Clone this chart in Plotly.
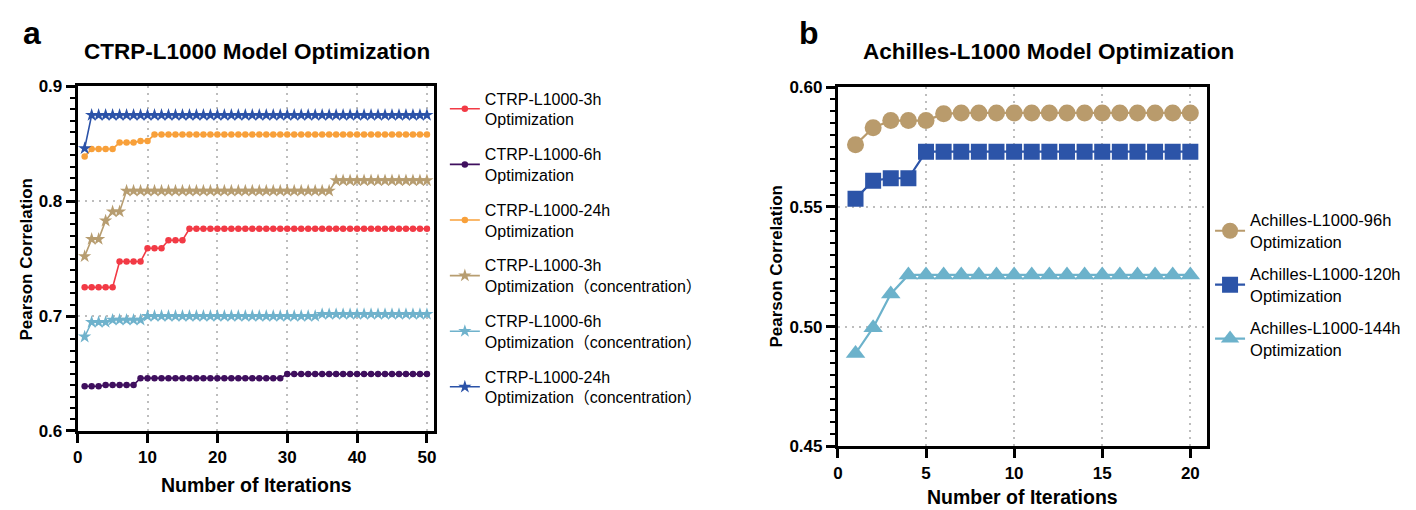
import plotly.graph_objects as go

W, H = 1416, 510

# ---------------- Panel a data ----------------
iters_a = list(range(1, 51))
ctrp_3h = [0.725, 0.725, 0.725, 0.725, 0.725, 0.7475, 0.7475, 0.7475, 0.7475, 0.759,
           0.759, 0.759, 0.766, 0.766, 0.766, 0.776, 0.776, 0.776, 0.776, 0.776,
           0.776, 0.776, 0.776, 0.776, 0.776, 0.776, 0.776, 0.776, 0.776, 0.776,
           0.776, 0.776, 0.776, 0.776, 0.776, 0.776, 0.776, 0.776, 0.776, 0.776,
           0.776, 0.776, 0.776, 0.776, 0.776, 0.776, 0.776, 0.776, 0.776, 0.776]
ctrp_6h = [0.639, 0.639, 0.639, 0.640, 0.640, 0.640, 0.640, 0.640, 0.646, 0.646,
           0.646, 0.646, 0.646, 0.646, 0.646, 0.646, 0.646, 0.646, 0.646, 0.646,
           0.646, 0.646, 0.646, 0.646, 0.646, 0.646, 0.646, 0.646, 0.646, 0.6495,
           0.6495, 0.6495, 0.6495, 0.6495, 0.6495, 0.6495, 0.6495, 0.6495, 0.6495, 0.6495,
           0.6495, 0.6495, 0.6495, 0.6495, 0.6495, 0.6495, 0.6495, 0.6495, 0.6495, 0.6495]
ctrp_24h = [0.839, 0.8455, 0.8455, 0.8455, 0.8455, 0.851, 0.851, 0.851, 0.8525, 0.8525,
            0.858, 0.858, 0.858, 0.858, 0.858, 0.858, 0.858, 0.858, 0.858, 0.858,
            0.858, 0.858, 0.858, 0.858, 0.858, 0.858, 0.858, 0.858, 0.858, 0.858,
            0.858, 0.858, 0.858, 0.858, 0.858, 0.858, 0.858, 0.858, 0.858, 0.858,
            0.858, 0.858, 0.858, 0.858, 0.858, 0.858, 0.858, 0.858, 0.858, 0.858]
ctrp_3h_conc = [0.752, 0.767, 0.767, 0.783, 0.791, 0.791, 0.809, 0.809, 0.809, 0.809,
                0.809, 0.809, 0.809, 0.809, 0.809, 0.809, 0.809, 0.809, 0.809, 0.809,
                0.809, 0.809, 0.809, 0.809, 0.809, 0.809, 0.809, 0.809, 0.809, 0.809,
                0.809, 0.809, 0.809, 0.809, 0.809, 0.809, 0.818, 0.818, 0.818, 0.818,
                0.818, 0.818, 0.818, 0.818, 0.818, 0.818, 0.818, 0.818, 0.818, 0.818]
ctrp_6h_conc = [0.682, 0.6947, 0.6947, 0.6947, 0.6967, 0.6967, 0.6967, 0.6967, 0.6967, 0.700,
                0.700, 0.700, 0.700, 0.700, 0.700, 0.700, 0.700, 0.700, 0.700, 0.700,
                0.700, 0.700, 0.700, 0.700, 0.700, 0.700, 0.700, 0.700, 0.700, 0.700,
                0.700, 0.700, 0.700, 0.700, 0.7017, 0.7017, 0.7017, 0.7017, 0.7017, 0.7017,
                0.7017, 0.7017, 0.7017, 0.7017, 0.7017, 0.7017, 0.7017, 0.7017, 0.7017, 0.7017]
ctrp_24h_conc = [0.846, 0.875, 0.875, 0.875, 0.875, 0.875, 0.875, 0.875, 0.875, 0.875,
                 0.875, 0.875, 0.875, 0.875, 0.875, 0.875, 0.875, 0.875, 0.875, 0.875,
                 0.875, 0.875, 0.875, 0.875, 0.875, 0.875, 0.875, 0.875, 0.875, 0.875,
                 0.875, 0.875, 0.875, 0.875, 0.875, 0.875, 0.875, 0.875, 0.875, 0.875,
                 0.875, 0.875, 0.875, 0.875, 0.875, 0.875, 0.875, 0.875, 0.875, 0.875]

names_a = ["CTRP-L1000-3h<br>Optimization",
           "CTRP-L1000-6h<br>Optimization",
           "CTRP-L1000-24h<br>Optimization",
           "CTRP-L1000-3h<br>Optimization（concentration）",
           "CTRP-L1000-6h<br>Optimization（concentration）",
           "CTRP-L1000-24h<br>Optimization（concentration）"]

xticks_a = [0, 10, 20, 30, 40, 50]
yticks_a = [0.6, 0.7, 0.8, 0.9]

# ---------------- Panel b data ----------------
iters_b = list(range(1, 21))
ach_96h = [0.576, 0.5831, 0.5861, 0.5861, 0.5861, 0.5889, 0.5893, 0.5893, 0.5893, 0.5893,
           0.5893, 0.5893, 0.5893, 0.5893, 0.5893, 0.5893, 0.5893, 0.5893, 0.5893, 0.5893]
ach_120h = [0.5534, 0.561, 0.562, 0.562, 0.5731, 0.5731, 0.5731, 0.5731, 0.5731, 0.5731,
            0.5731, 0.5731, 0.5731, 0.5731, 0.5731, 0.5731, 0.5731, 0.5731, 0.5731, 0.5731]
ach_144h = [0.4888, 0.4996, 0.5137, 0.5216, 0.5216, 0.5216, 0.5216, 0.5216, 0.5216, 0.5216,
            0.5216, 0.5216, 0.5216, 0.5216, 0.5216, 0.5216, 0.5216, 0.5216, 0.5216, 0.5216]

names_b = ["Achilles-L1000-96h<br>Optimization",
           "Achilles-L1000-120h<br>Optimization",
           "Achilles-L1000-144h<br>Optimization"]

xticks_b = [0, 5, 10, 15, 20]
yticks_b = [0.45, 0.50, 0.55, 0.60]

FONT = "Liberation Sans, Arial, Noto Sans CJK SC, sans-serif"

fig = go.Figure()

series_a = [ctrp_3h, ctrp_6h, ctrp_24h, ctrp_3h_conc, ctrp_6h_conc, ctrp_24h_conc]
colors_a = ["#F23A45", "#3F0F5E", "#F8A03A", "#B79D70", "#6FB2CC", "#2B52A8"]
symbols_a = ["circle", "circle", "circle", "star", "star", "star"]
sizes_a = [6.5, 6.5, 6.5, 10, 10, 10]
for i, (ys, nm) in enumerate(zip(series_a, names_a)):
    fig.add_trace(go.Scatter(
        x=iters_a, y=ys, name=nm, mode="lines+markers",
        line=dict(color=colors_a[i], width=1.6),
        marker=dict(color=colors_a[i], symbol=symbols_a[i], size=sizes_a[i], line=dict(width=0)),
        xaxis="x", yaxis="y", legend="legend", legendgroup="a%d" % i))

series_b = [ach_96h, ach_120h, ach_144h]
colors_b = ["#B99B6C", "#2C54A8", "#6CB2CB"]
symbols_b = ["circle", "square", "triangle-up"]
sizes_b = [17, 16, 17]
for i, (ys, nm) in enumerate(zip(series_b, names_b)):
    fig.add_trace(go.Scatter(
        x=iters_b, y=ys, name=nm, mode="lines+markers",
        line=dict(color=colors_b[i], width=2.2),
        marker=dict(color=colors_b[i], symbol=symbols_b[i], size=sizes_b[i], line=dict(width=0)),
        xaxis="x2", yaxis="y2", legend="legend2", legendgroup="b%d" % i))

def px_x(p):
    return p / W

def px_y(p):
    return 1 - p / H

axis_common = dict(showline=True, linecolor="black", linewidth=3, mirror=True,
                   ticks="outside", tickcolor="black", tickwidth=3, ticklen=9,
                   showgrid=True, gridcolor="#BDBDBD", griddash="2px,5px", gridwidth=1.6,
                   zeroline=False,
                   tickfont=dict(family=FONT, size=17, color="black", weight="bold"))

fig.update_layout(
    width=W, height=H, margin=dict(l=0, r=0, t=0, b=0),
    plot_bgcolor="white", paper_bgcolor="white",
    xaxis=dict(domain=[px_x(65), px_x(423)], range=[0, 51], tickvals=xticks_a, anchor="y",
               **axis_common),
    yaxis=dict(domain=[px_y(430), px_y(72)], range=[0.6, 0.9], tickvals=yticks_a,
               tickformat=".1f", anchor="x",
               minor=dict(dtick=0.01, ticks="outside", ticklen=5, tickwidth=2,
                          tickcolor="black", showgrid=False),
               **axis_common),
    xaxis2=dict(domain=[px_x(829), px_x(1200)], range=[0, 20.95], tickvals=xticks_b, anchor="y2",
                **axis_common),
    yaxis2=dict(domain=[px_y(446), px_y(73)], range=[0.45, 0.60], tickvals=yticks_b,
                tickformat=".2f", anchor="x2",
                minor=dict(dtick=0.005, ticks="outside", ticklen=5, tickwidth=2,
                           tickcolor="black", showgrid=False),
                **axis_common),
    legend=dict(x=px_x(434), y=px_y(67), xanchor="left", yanchor="top",
                font=dict(family=FONT, size=16, color="black"),
                bgcolor="rgba(0,0,0,0)", traceorder="grouped", tracegroupgap=11,
                itemwidth=30),
    legend2=dict(x=px_x(1203), y=px_y(193), xanchor="left", yanchor="top",
                 font=dict(family=FONT, size=16.5, color="black"),
                 bgcolor="rgba(0,0,0,0)", traceorder="grouped", tracegroupgap=8,
                 itemwidth=30),
    showlegend=True,
)

bold = dict(family=FONT, color="black", weight="bold")
annos = [
    dict(text="a", x=px_x(8), y=px_y(17), xanchor="left", yanchor="middle", font=dict(size=32, **bold)),
    dict(text="b", x=px_x(788), y=px_y(17), xanchor="left", yanchor="middle", font=dict(size=32, **bold)),
    dict(text="CTRP-L1000 Model Optimization", x=px_x(245), y=px_y(36), xanchor="center", yanchor="middle",
         font=dict(size=22.5, **bold)),
    dict(text="Achilles-L1000 Model Optimization", x=px_x(1041), y=px_y(36), xanchor="center", yanchor="middle",
         font=dict(size=22.5, **bold)),
    dict(text="Number of Iterations", x=px_x(245), y=px_y(486), xanchor="center", yanchor="middle",
         font=dict(size=19.5, **bold)),
    dict(text="Number of Iterations", x=px_x(1015), y=px_y(499), xanchor="center", yanchor="middle",
         font=dict(size=19.5, **bold)),
    dict(text="Pearson Correlation", x=px_x(14), y=px_y(251), xanchor="center", yanchor="middle",
         textangle=-90, font=dict(size=17, **bold)),
    dict(text="Pearson Correlation", x=px_x(767), y=px_y(259), xanchor="center", yanchor="middle",
         textangle=-90, font=dict(size=17, **bold)),
]
for a in annos:
    a.update(xref="paper", yref="paper", showarrow=False)
fig.update_layout(annotations=annos)

fig.write_html("out.html")
